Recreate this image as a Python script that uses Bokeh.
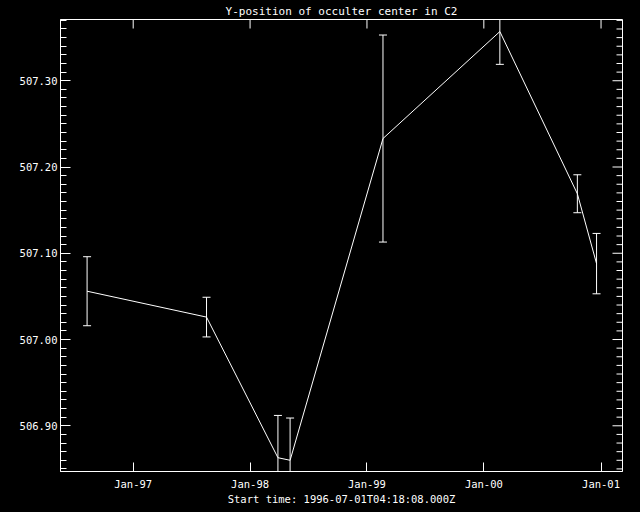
import numpy as np
import pandas as pd
from bokeh.plotting import figure
from bokeh.models import (Range1d, FixedTicker, SingleIntervalTicker,
                          PrintfTickFormatter, ColumnDataSource)
from bokeh.embed import file_html
from bokeh.resources import INLINE

# ---- data ----
obs_dates = ["1996-08-10", "1997-08-18", "1998-03-29", "1998-05-06",
             "1999-02-20", "2000-02-20", "2000-10-19", "2000-12-18"]
y_pos = [507.056, 507.026, 506.863, 506.860, 507.233, 507.357, 507.169, 507.088]
y_err = [0.040, 0.023, 0.049, 0.049, 0.120, 0.038, 0.022, 0.035]
tick_dates = ["1997-01-01", "1998-01-01", "1999-01-01", "2000-01-01", "2001-01-01"]
tick_labels = ["Jan-97", "Jan-98", "Jan-99", "Jan-00", "Jan-01"]
y_major_ticks = [506.90, 507.00, 507.10, 507.20, 507.30]
title_text = "Y-position of occulter center in C2"
xlabel_text = "Start time: 1996-07-01T04:18:08.000Z"
x_start, x_end = "1996-05-19", "2001-03-09"
y_start, y_end = 506.847, 507.371

x = pd.to_datetime(obs_dates)
y = np.array(y_pos)
e = np.array(y_err)
src = ColumnDataSource(dict(x=x, y=y, lo=y - e, hi=y + e))

def ms(d):
    return pd.Timestamp(d).value / 1e6

tick_ms = [ms(d) for d in tick_dates]
overrides = {t: l for t, l in zip(tick_ms, tick_labels)}

FONT = "DejaVu Sans Mono"
FS = "10.5px"

p = figure(frame_width=562, frame_height=452,
           min_border_left=60, min_border_right=18, min_border_top=19, min_border_bottom=41,
           x_axis_type="datetime", title=title_text,
           x_range=Range1d(pd.Timestamp(x_start), pd.Timestamp(x_end)),
           y_range=Range1d(y_start, y_end),
           output_backend="svg", toolbar_location=None)

p.background_fill_color = "black"
p.border_fill_color = "black"
p.outline_line_color = "white"
p.outline_line_width = 1
p.xgrid.visible = False
p.ygrid.visible = False

p.title.text_color = "white"
p.title.text_font = FONT
p.title.text_font_size = "11px"
p.title.text_font_style = "normal"
p.title.align = "center"
p.title.standoff = 4
p.title.offset = 0

def style(ax):
    ax.axis_line_color = "white"
    ax.major_tick_line_color = "white"
    ax.minor_tick_line_color = "white"
    ax.major_label_text_color = "white"
    ax.major_label_text_font = FONT
    ax.major_label_text_font_size = FS

# bottom x axis
xa = p.xaxis[0]
style(xa)
xa.ticker = FixedTicker(ticks=tick_ms)
xa.major_label_overrides = overrides
xa.major_tick_in = 9
xa.major_tick_out = 0
xa.minor_tick_line_color = None
xa.major_label_standoff = 6
xa.axis_label = xlabel_text
xa.axis_label_text_color = "white"
xa.axis_label_text_font = FONT
xa.axis_label_text_font_size = FS
xa.axis_label_text_font_style = "normal"
xa.axis_label_standoff = 0

# left y axis
ya = p.yaxis[0]
style(ya)
ya.ticker = SingleIntervalTicker(interval=0.1, num_minor_ticks=10)
ya.formatter = PrintfTickFormatter(format="%.2f")
ya.major_tick_in = 10
ya.major_tick_out = 0
ya.minor_tick_in = 6
ya.minor_tick_out = 0
ya.major_label_standoff = 3

# mirrored ticks on top and right edges (half of each marker clipped by the frame)
x_end_ms = ms(x_end)
minor_y = [v for v in np.round(np.arange(506.85, 507.375, 0.01), 2)
           if not any(abs(v - m) < 1e-6 for m in y_major_ticks)]
p.scatter(x=tick_ms, y=[y_end] * len(tick_ms), marker="dash", angle=np.pi / 2,
          size=18, line_color="white", line_width=1)
p.scatter(x=[x_end_ms] * len(y_major_ticks), y=y_major_ticks, marker="dash",
          size=20, line_color="white", line_width=1)
p.scatter(x=[x_end_ms] * len(minor_y), y=minor_y, marker="dash",
          size=12, line_color="white", line_width=1)

# data
p.line("x", "y", source=src, line_color="white", line_width=1)
p.segment(x0="x", y0="lo", x1="x", y1="hi", source=src, line_color="white", line_width=1)
p.scatter("x", "lo", source=src, marker="dash", size=8, line_color="white", line_width=1)
p.scatter("x", "hi", source=src, marker="dash", size=8, line_color="white", line_width=1)

open("out.html", "w").write(file_html(p, INLINE).replace(
    "<head>", "<head><style>body{background:#000;margin:0}</style>", 1))
